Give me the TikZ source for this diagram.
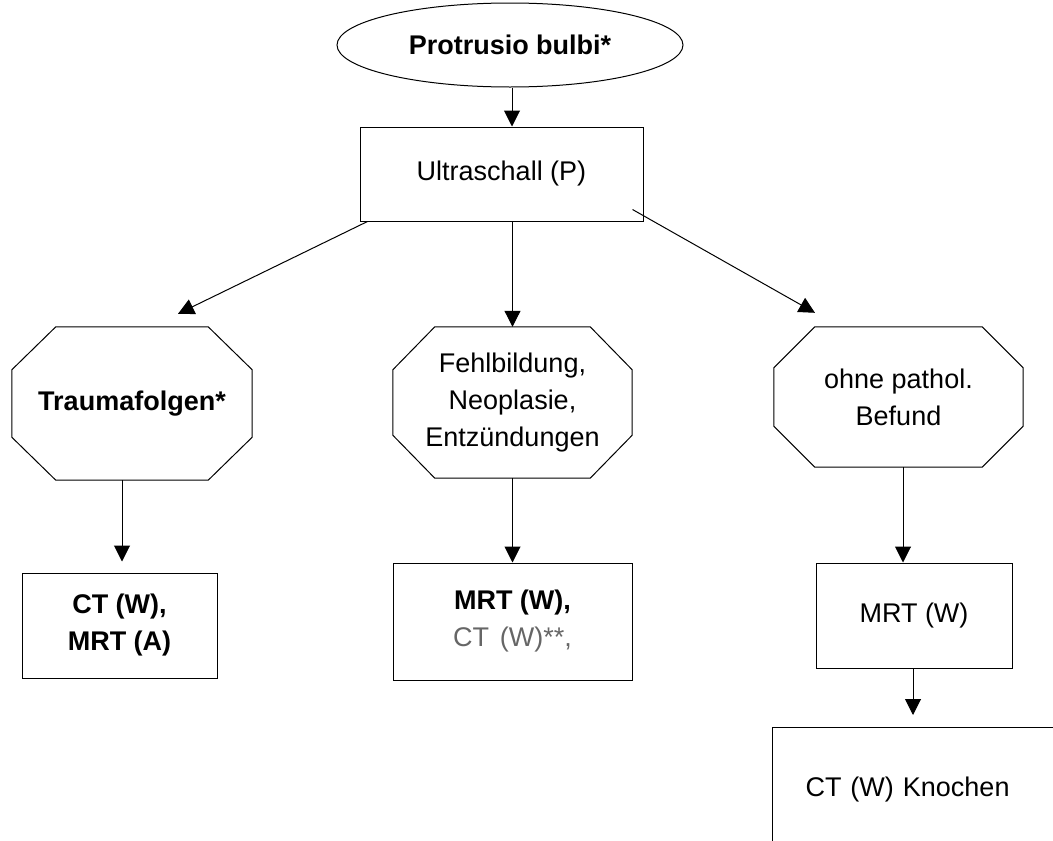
\documentclass[tikz,border=0pt]{standalone}
\usepackage{fontspec}
\setmainfont{Liberation Sans}
\usetikzlibrary{shapes.geometric,arrows.meta}

\begin{document}
\begin{tikzpicture}[x=1pt,y=-1pt,
	box/.style={draw,rectangle,line width=1pt,align=center,inner sep=0pt},
	octa/.style={rectangle,align=center,inner sep=0pt},
	arr/.style={-{Triangle[width=16pt,length=16pt]},line width=1pt}]
	\tikzstyle{every node}+=[font=\fontsize{27}{37}\selectfont]
	\useasboundingbox (0,0) rectangle (1053,841);
	\node[draw,ellipse,line width=1pt,minimum width=346pt,minimum height=84pt,inner sep=0pt,font=\fontsize{27}{37}\selectfont\bfseries] (protr) at (510,45) {Protrusio bulbi*};
	\node[box,minimum width=283pt,minimum height=94pt] (us) at (501.5,174) {Ultraschall (P)};
	\node[octa,minimum width=240pt,minimum height=153pt,font=\fontsize{27}{37}\selectfont\bfseries] (trauma) at (132,403.5) {Traumafolgen*};
	\node[octa,minimum width=239pt,minimum height=151pt] (fehl) at (512.5,402.5) {Fehlbildung,\\Neoplasie,\\Entzündungen};
	\node[octa,minimum width=249pt,minimum height=140pt] (ohne) at (898.5,397) {ohne pathol.\\Befund};
	\foreach \n/\dx/\dy in {trauma/44/43,fehl/42/43,ohne/41/41}
		\draw[line width=1pt] ([xshift=\dx pt]\n.north west) -- ([xshift=-\dx pt]\n.north east) -- ([yshift=-\dy pt]\n.north east) -- ([yshift=\dy pt]\n.south east) -- ([xshift=-\dx pt]\n.south east) -- ([xshift=\dx pt]\n.south west) -- ([yshift=\dy pt]\n.south west) -- ([yshift=-\dy pt]\n.north west) -- cycle;
	\node[box,minimum width=195pt,minimum height=105pt,font=\fontsize{27}{37}\selectfont\bfseries] (ctmrt) at (119.5,625.5) {CT (W),\\MRT (A)};
	\node[box,minimum width=239pt,minimum height=117pt] (mrtct) at (512.5,621.5) {\textbf{MRT (W),}\\{\color{black!60}CT\hspace{0.4em}(W)**,}};
	\node[box,minimum width=196pt,minimum height=105pt] (mrt) at (914,615.5) {MRT (W)};
	\node[box,anchor=north west,minimum width=298pt,minimum height=124pt,text width=232pt,inner xsep=33pt,align=left] (knochen) at (772,727) {CT (W) Knochen};
	\draw[arr] ([xshift=2pt]protr.south) -- ([xshift=2pt]protr.south |- us.north);
	\draw[arr] (fehl.north |- us.south) -- (fehl.north);
	\draw[arr] ([xshift=8pt]us.south west) -- ([xshift=46pt,yshift=13pt]trauma.north);
	\draw[arr] ([xshift=-11pt,yshift=12pt]us.south east) -- ([xshift=-83.5pt,yshift=14pt]ohne.north);
	\draw[arr,shorten >=11pt] ([xshift=-10pt]trauma.south) -- ([xshift=-10pt]trauma.south |- ctmrt.north);
	\draw[arr] (fehl.south) -- (mrtct.north);
	\draw[arr] ([xshift=4.5pt]ohne.south) -- ([xshift=4.5pt]ohne.south |- mrt.north);
	\draw[arr,shorten >=12pt] ([xshift=-1pt]mrt.south) -- ([xshift=-1pt]mrt.south |- knochen.north);
\end{tikzpicture}
\end{document}
